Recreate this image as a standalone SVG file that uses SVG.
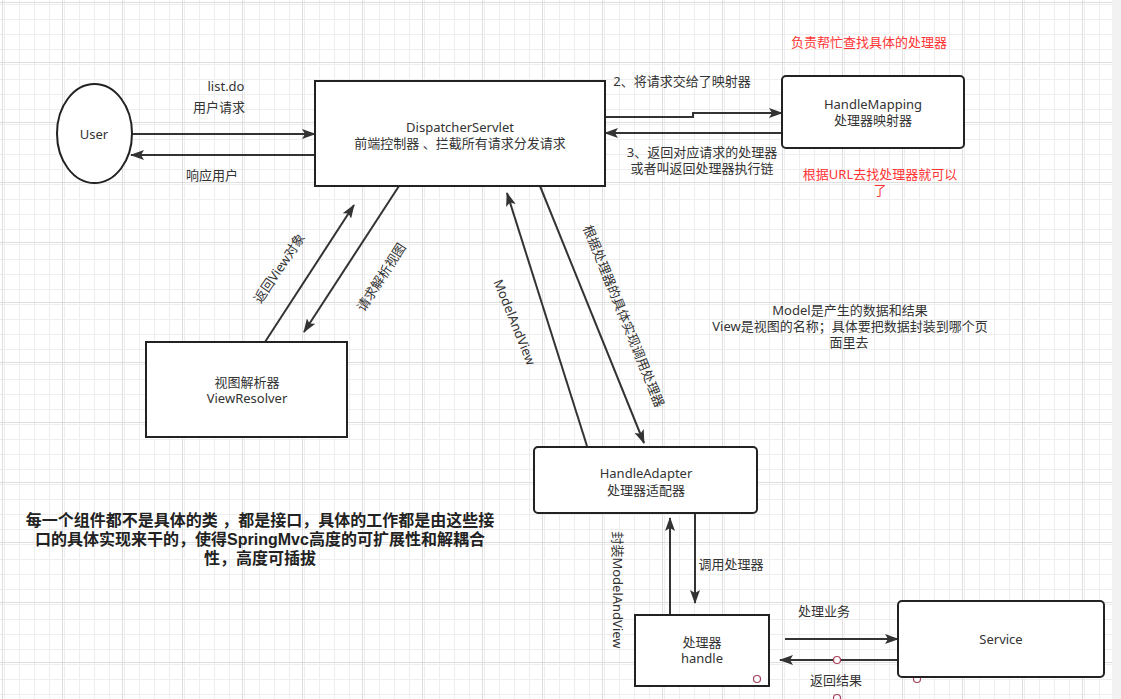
<svg xmlns="http://www.w3.org/2000/svg" width="1121" height="699" viewBox="0 0 1121 699">
  <style>
    .t { font-family: "Noto Sans", "Noto Sans CJK SC", sans-serif; font-size: 13px; fill: #333; text-anchor: middle; }
    .red { fill: #ff3333; }
    .bold { font-family: "Liberation Sans", "Noto Sans CJK SC", sans-serif; font-size: 16px; font-weight: bold; fill: #222; }
    .box { fill: #fff; stroke: #222; stroke-width: 2; }
    .edge { fill: none; stroke: #333; stroke-width: 2; }
    .pt { fill: #fff; stroke: #a8405a; stroke-width: 1.2; }
  </style>
  <defs>
    <pattern id="minor" x="2" y="2" width="15" height="15" patternUnits="userSpaceOnUse">
      <path d="M0.5,0 V15 M0,0.5 H15" stroke="#eeeeee" stroke-width="1" fill="none"/>
    </pattern>
    <pattern id="major" x="2" y="2" width="60" height="60" patternUnits="userSpaceOnUse">
      <rect width="60" height="60" fill="url(#minor)"/>
      <path d="M0.5,0 V60 M0,0.5 H60" stroke="#dedede" stroke-width="1" fill="none"/>
    </pattern>
    <marker id="arr" viewBox="0 0 14 10" refX="13" refY="5" markerWidth="14" markerHeight="10" markerUnits="userSpaceOnUse" orient="auto">
      <path d="M0,0 L14,5 L0,10 L3,5 z" fill="#333"/>
    </marker>
  </defs>

  <rect width="1121" height="699" fill="#fff"/>
  <rect x="0" y="0" width="1112" height="699" fill="url(#major)"/>
  <rect x="1112" y="0" width="9" height="699" fill="#f2f2f2"/>

  <g id="connectors">
    <path class="edge" d="M132,134 L315,134" marker-end="url(#arr)"/>
    <path class="edge" d="M315,155 L131,155" marker-end="url(#arr)"/>
    <path class="edge" d="M605,117 L693,117 L693,113 L782,113" marker-end="url(#arr)"/>
    <path class="edge" d="M782,133 L605,133" marker-end="url(#arr)"/>
    <path class="edge" d="M265,342 L354,205" marker-end="url(#arr)"/>
    <path class="edge" d="M399,186 L304,332" marker-end="url(#arr)"/>
    <path class="edge" d="M587,446 L507,193" marker-end="url(#arr)"/>
    <path class="edge" d="M540,186 L644,443" marker-end="url(#arr)"/>
    <path class="edge" d="M670,615 L670,518" marker-end="url(#arr)"/>
    <path class="edge" d="M695,513 L695,603" marker-end="url(#arr)"/>
    <path class="edge" d="M785,639 L898,639" marker-end="url(#arr)"/>
    <path class="edge" d="M898,660 L780,660" marker-end="url(#arr)"/>

    <text class="t" x="226" y="91">list.do</text>
    <text class="t" x="219" y="112">用户请求</text>
    <text class="t" x="212" y="180">响应用户</text>
    <text class="t" x="682" y="86">2、将请求交给了映射器</text>
    <text class="t" x="702" y="157">3、返回对应请求的处理器<tspan x="702" dy="16">或者叫返回处理器执行链</tspan></text>
    <text class="t" transform="translate(279,268) rotate(-56)" y="5">返回View对象</text>
    <text class="t" transform="translate(381,277) rotate(-57)" y="5">请求解析视图</text>
    <text class="t" transform="translate(515,322) rotate(68)" y="5">ModelAndView</text>
    <text class="t" transform="translate(624,316) rotate(68)" y="5">根据处理器的具体实现调用处理器</text>
    <text class="t" transform="translate(618,590) rotate(90)" y="5">封装ModelAndView</text>
    <text class="t" x="731" y="569">调用处理器</text>
    <text class="t" x="824" y="616">处理业务</text>
    <text class="t" x="836" y="685">返回结果</text>

    <circle class="pt" cx="837" cy="660" r="3.5"/>
    <circle class="pt" cx="917" cy="679" r="3.5"/>
    <circle class="pt" cx="837" cy="698" r="3.5"/>
  </g>

  <g id="user">
    <ellipse class="box" cx="94.5" cy="133.5" rx="37.5" ry="49.5"/>
    <text class="t" x="94" y="139">User</text>
  </g>

  <g id="dispatcher">
    <rect class="box" x="315" y="81" width="290" height="105"/>
    <text class="t" x="460" y="132">DispatcherServlet<tspan x="460" dy="16">前端控制器 、拦截所有请求分发请求</tspan></text>
  </g>

  <g id="handlemapping">
    <rect class="box" x="782" y="76" width="182" height="72" rx="4"/>
    <text class="t" x="873" y="109">HandleMapping<tspan x="873" dy="16">处理器映射器</tspan></text>
  </g>

  <g id="viewresolver">
    <rect class="box" x="146" y="342" width="201" height="95"/>
    <text class="t" x="247" y="387">视图解析器<tspan x="247" dy="16">ViewResolver</tspan></text>
  </g>

  <g id="handleadapter">
    <rect class="box" x="534" y="447" width="223" height="66" rx="4"/>
    <text class="t" x="646" y="478">HandleAdapter<tspan x="646" dy="17">处理器适配器</tspan></text>
  </g>

  <g id="handle">
    <rect class="box" x="635" y="615" width="134" height="71"/>
    <text class="t" x="702" y="647">处理器<tspan x="702" dy="16">handle</tspan></text>
    <circle class="pt" cx="757" cy="679" r="3.5"/>
  </g>

  <g id="service">
    <rect class="box" x="898" y="601" width="206" height="76" rx="4"/>
    <text class="t" x="1001" y="644">Service</text>
  </g>

  <g id="notes">
    <text class="t red" x="869" y="47">负责帮忙查找具体的处理器</text>
    <text class="t red" x="880" y="179">根据URL去找处理器就可以<tspan x="880" dy="16">了</tspan></text>
    <text class="t" x="850" y="315">Model是产生的数据和结果<tspan x="850" dy="16">View是视图的名称；具体要把数据封装到哪个页</tspan><tspan x="849" dy="16">面里去</tspan></text>
    <text class="t bold" x="260" y="526">每一个组件都不是具体的类 ，都是接口，具体的工作都是由这些接<tspan x="260" dy="19">口的具体实现来干的，使得SpringMvc高度的可扩展性和解耦合</tspan><tspan x="260" dy="19">性，高度可插拔</tspan></text>
  </g>
</svg>
